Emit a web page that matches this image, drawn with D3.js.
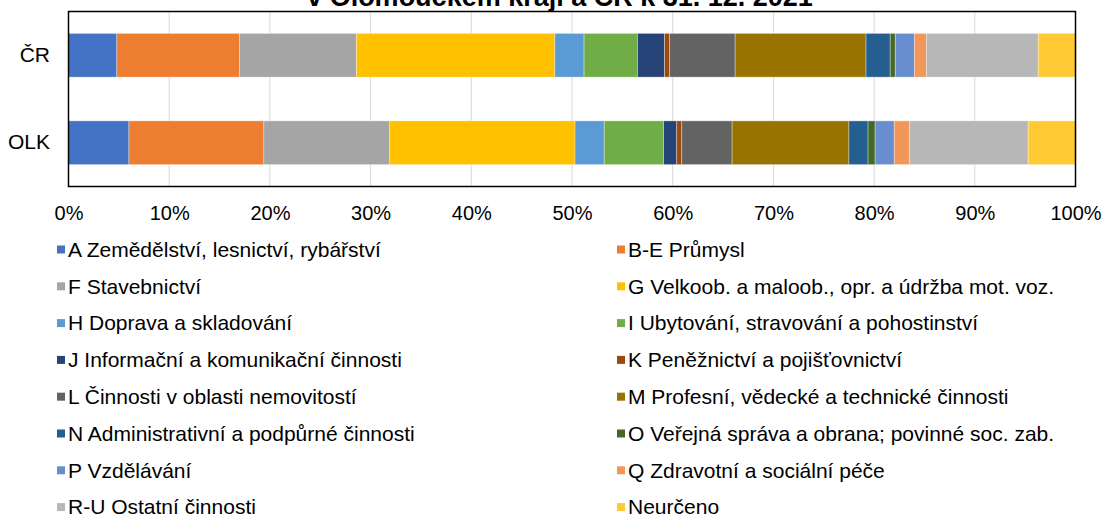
<!DOCTYPE html>
<html>
<head>
<meta charset="utf-8">
<script src="https://cdn.jsdelivr.net/npm/d3@7"></script>
<style>
  body { margin: 0; background: #fff; }
  text { font-family: "Liberation Sans", Arial, sans-serif; fill: #000; }
</style>
</head>
<body>
<div id="vis"></div>
<script>
// categories (rows of the chart)
const regions = ['ČR', 'OLK'];

// sectors, in stacking order
const sectors = [
  'A Zemědělství, lesnictví, rybářství',
  'B-E Průmysl',
  'F Stavebnictví',
  'G Velkoob. a maloob., opr. a údržba mot. voz.',
  'H Doprava a skladování',
  'I Ubytování, stravování a pohostinství',
  'J Informační a komunikační činnosti',
  'K Peněžnictví a pojišťovnictví',
  'L Činnosti v oblasti nemovitostí',
  'M Profesní, vědecké a technické činnosti',
  'N Administrativní a podpůrné činnosti',
  'O Veřejná správa a obrana; povinné soc. zab.',
  'P Vzdělávání',
  'Q Zdravotní a sociální péče',
  'R-U Ostatní činnosti',
  'Neurčeno'
];

// shares in %
const valuesCR  = [4.8, 12.2, 11.6, 19.7, 2.9, 5.3, 2.7, 0.5, 6.5, 13.0, 2.4, 0.5, 1.9, 1.2, 11.1, 3.7];
const valuesOLK = [6.0, 13.4, 12.5, 18.4, 2.9, 5.9, 1.3, 0.5, 5.0, 11.6, 1.9, 0.7, 1.9, 1.5, 11.8, 4.7];

const tickValues = [0, 0.1, 0.2, 0.3, 0.4, 0.5, 0.6, 0.7, 0.8, 0.9, 1];

const colors = ['#4472C4', '#ED7D31', '#A5A5A5', '#FFC000', '#5B9BD5', '#70AD47',
  '#264478', '#9E480E', '#636363', '#997300', '#255E91', '#43682B',
  '#698ED0', '#F1975A', '#B7B7B7', '#FFCA33'];

const W = 1105, H = 515;
const plot = { left: 68.5, right: 1075.5, top: 11.5, bottom: 186.5 };

const svg = d3.select('#vis')
  .append('svg')
  .attr('width', W)
  .attr('height', H);

// build rows for stacking
const rows = regions.map((r, i) => {
  const vals = i === 0 ? valuesCR : valuesOLK;
  const total = d3.sum(vals);
  const row = { region: r };
  sectors.forEach((s, j) => { row[s] = vals[j] / total; });
  return row;
});

const stacked = d3.stack().keys(sectors)(rows);

const x = d3.scaleLinear().domain([0, 1]).range([plot.left, plot.right]);
const y = d3.scaleBand().domain(regions).range([plot.top, plot.bottom])
  .paddingInner(0.5).paddingOuter(0.25);
const color = d3.scaleOrdinal().domain(sectors).range(colors);

// title, cut off at the top edge
svg.append('text')
  .attr('x', 560)
  .attr('y', 6)
  .attr('text-anchor', 'middle')
  .style('font-size', '27px')
  .style('font-weight', 'bold')
  .text('v Olomouckém kraji a ČR k 31. 12. 2021');

// gridlines
svg.append('g')
  .selectAll('line')
  .data(tickValues)
  .join('line')
    .attr('x1', d => x(d))
    .attr('x2', d => x(d))
    .attr('y1', plot.top)
    .attr('y2', plot.bottom)
    .attr('stroke', '#d9d9d9')
    .attr('stroke-width', 1);

// bars
svg.append('g')
  .selectAll('g')
  .data(stacked)
  .join('g')
    .attr('fill', d => color(d.key))
  .selectAll('rect')
  .data(d => d)
  .join('rect')
    .attr('x', d => x(d[0]))
    .attr('width', d => x(d[1]) - x(d[0]))
    .attr('y', d => y(d.data.region))
    .attr('height', y.bandwidth())
    .attr('stroke', 'rgba(255,255,255,0.45)')
    .attr('stroke-width', 0.75);

// plot frame
svg.append('rect')
  .attr('x', plot.left)
  .attr('y', plot.top)
  .attr('width', plot.right - plot.left)
  .attr('height', plot.bottom - plot.top)
  .attr('fill', 'none')
  .attr('stroke', '#000')
  .attr('stroke-width', 1.5);

// x axis labels
const xAxis = svg.append('g')
  .attr('transform', `translate(0, ${plot.bottom + 16})`)
  .call(d3.axisBottom(x).tickValues(tickValues).tickFormat(d3.format('.0%')).tickSize(0));
xAxis.select('.domain').remove();
xAxis.selectAll('text')
  .style('font-size', '20px')
  .style('font-family', '"Liberation Sans", Arial, sans-serif')
  .attr('fill', '#000');

// y axis labels
const yAxis = svg.append('g')
  .attr('transform', `translate(${plot.left - 15.5}, 0)`)
  .call(d3.axisLeft(y).tickSize(0));
yAxis.select('.domain').remove();
yAxis.selectAll('text')
  .style('font-size', '21px')
  .style('font-family', '"Liberation Sans", Arial, sans-serif')
  .attr('fill', '#000');

// legend, two columns
const legend = svg.append('g')
  .selectAll('g')
  .data(sectors)
  .join('g')
    .attr('transform', (d, i) => {
      const col = i % 2, row = Math.floor(i / 2);
      return `translate(${col === 0 ? 57 : 617}, ${249.5 + row * 36.8})`;
    });

legend.append('rect')
  .attr('x', 0)
  .attr('y', -4)
  .attr('width', 8)
  .attr('height', 8)
  .attr('fill', d => color(d));

legend.append('text')
  .attr('x', 11)
  .attr('y', 0)
  .attr('dy', '0.35em')
  .style('font-size', '21px')
  .text(d => d);
</script>
</body>
</html>
